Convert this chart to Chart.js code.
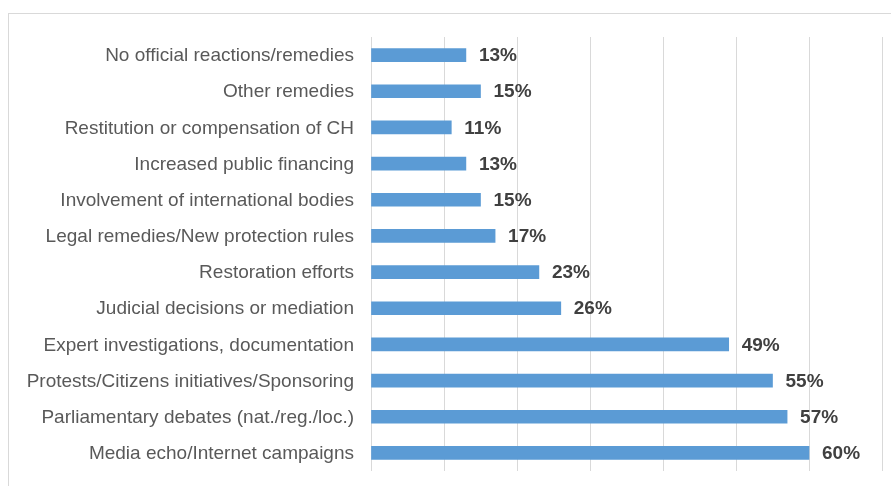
<!DOCTYPE html>
<html>
<head>
<meta charset="utf-8">
<script src="https://cdn.jsdelivr.net/npm/chart.js@4.4.1/dist/chart.umd.min.js"></script>
<style>
  html, body { margin: 0; padding: 0; background: #ffffff; }
  #wrap { position: relative; width: 891px; height: 486px; overflow: hidden; }
  #frame { position: absolute; left: 8px; top: 13px; width: 900px; height: 500px; border: 1px solid #d9d9d9; box-sizing: border-box; }
  canvas { position: absolute; left: 0; top: 0; }
</style>
</head>
<body>
<div id="wrap">
  <div id="frame"></div>
  <canvas id="chart" width="891" height="486"></canvas>
</div>
<script>
// categories top to bottom, as shown
const categories = [
  "No official reactions/remedies",
  "Other remedies",
  "Restitution or compensation of CH",
  "Increased public financing",
  "Involvement of international bodies",
  "Legal remedies/New protection rules",
  "Restoration efforts",
  "Judicial decisions or mediation",
  "Expert investigations, documentation",
  "Protests/Citizens initiatives/Sponsoring",
  "Parliamentary debates (nat./reg./loc.)",
  "Media echo/Internet campaigns"
];
const shares = [13, 15, 11, 13, 15, 17, 23, 26, 49, 55, 57, 60];

// draws "NN%" at the end of each bar
const valueLabels = {
  id: "valueLabels",
  afterDatasetsDraw(chart) {
    const ctx = chart.ctx;
    const meta = chart.getDatasetMeta(0);
    ctx.save();
    ctx.font = "bold 19px 'Liberation Sans', Arial, sans-serif";
    ctx.fillStyle = "#404040";
    ctx.textAlign = "left";
    ctx.textBaseline = "middle";
    meta.data.forEach((bar, i) => {
      ctx.fillText(shares[i] + "%", bar.x + 13, bar.y + 1);
    });
    ctx.restore();
  }
};

new Chart(document.getElementById("chart"), {
  type: "bar",
  data: {
    labels: categories,
    datasets: [{
      data: shares,
      backgroundColor: "#5b9bd5",
      borderWidth: 0,
      barThickness: 13
    }]
  },
  options: {
    indexAxis: "y",
    responsive: false,
    animation: false,
    layout: { padding: { left: 0, top: 37, right: 9, bottom: 15 } },
    scales: {
      x: {
        min: 0,
        max: 70,
        ticks: { display: false, stepSize: 10 },
        grid: { color: "#d9d9d9", lineWidth: 1, drawTicks: false },
        border: { display: false },
        afterFit(scale) { scale.height = 0; }
      },
      y: {
        grid: { display: false, drawTicks: false },
        border: { display: false },
        ticks: {
          color: "#595959",
          padding: 17,
          labelOffset: 1,
          font: { family: "'Liberation Sans', Arial, sans-serif", size: 19 }
        },
        afterFit(scale) {
          scale.width = 371;
          scale.paddingTop = 0;
          scale.paddingBottom = 0;
        }
      }
    },
    plugins: {
      legend: { display: false },
      tooltip: { enabled: false }
    }
  },
  plugins: [valueLabels]
});
</script>
</body>
</html>
